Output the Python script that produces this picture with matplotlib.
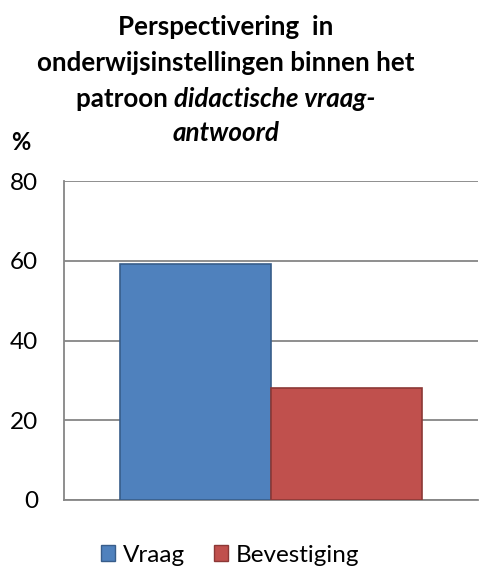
import matplotlib
matplotlib.use("Agg")
import matplotlib.pyplot as plt
from matplotlib.patches import Patch

categories = [""]
series_names = ["Vraag", "Bevestiging"]
values = [59.2, 28.0]
colors = ["#4F81BD", "#C0504D"]
edges = ["#385D8A", "#8C3836"]
yticks = [0, 20, 40, 60, 80]

FONT = "Lato"
plt.rcParams["font.family"] = [FONT, "DejaVu Sans"]

fig = plt.figure(figsize=(4.8, 5.72), dpi=100)
W, H = 480, 572
ax = fig.add_axes([64 / W, 1 - 500 / H, 414 / W, 319 / H])

bw = 0.365
offsets = [-bw / 2, bw / 2]
for name, v, c, e, o in zip(series_names, values, colors, edges, offsets):
    ax.bar(0 + o, v, width=bw, color=c, edgecolor=e, linewidth=1.2, zorder=3, label=name)

ax.set_xlim(-0.5, 0.5)
ax.set_ylim(0, 80)
ax.set_yticks(yticks)
ax.set_yticklabels([str(t) for t in yticks], fontsize=17.5)
ax.set_xticks([])
ax.grid(axis="y", color="#868686", linewidth=1.3, zorder=0)
ax.tick_params(axis="y", length=0, pad=18.5)
for s in ["top", "right"]:
    ax.spines[s].set_visible(False)
for s in ["left", "bottom"]:
    ax.spines[s].set_color("#868686")
    ax.spines[s].set_linewidth(1.3)

# Title with mixed styles
cx = 226 / W
fs = 18.7
fig.text(cx, 1 - 27 / H, "Perspectivering  in", ha="center", va="center", fontsize=fs, fontweight="bold")
fig.text(cx, 1 - 63 / H, "onderwijsinstellingen binnen het", ha="center", va="center", fontsize=fs, fontweight="bold")
fig.canvas.draw()
r = fig.canvas.get_renderer()
t1 = fig.text(0, 1 - 99 / H, "patroon ", ha="left", va="center", fontsize=fs, fontweight="bold")
t2 = fig.text(0, 1 - 99 / H, "didactische vraag-", ha="left", va="center", fontsize=fs, fontweight="bold", style="italic")
w1 = t1.get_window_extent(r).width
w2 = t2.get_window_extent(r).width
x0 = cx * W - (w1 + w2) / 2
t1.set_x(x0 / W)
t2.set_x((x0 + w1) / W)
fig.text(cx, 1 - 133 / H, "antwoord", ha="center", va="center", fontsize=fs, fontweight="bold", style="italic")

fig.text(21 / W, 1 - 142 / H, "%", ha="center", va="center", fontsize=17, fontweight="bold")

handles = [Patch(facecolor=c, edgecolor=e, label=n) for n, c, e in zip(series_names, colors, edges)]
fig.legend(handles=handles, loc="center", bbox_to_anchor=(230 / W, 1 - 555 / H), ncol=2, frameon=False,
           fontsize=17.5, handlelength=0.6, handleheight=0.6, handletextpad=0.3, columnspacing=1.2)

fig.savefig("out.png", dpi=100)
